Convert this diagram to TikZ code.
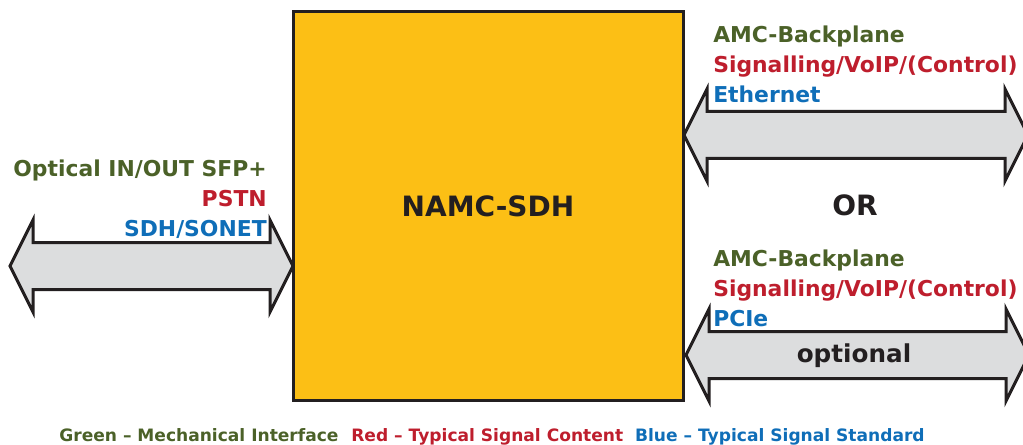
\documentclass[tikz,border=0pt]{standalone}
\usepackage{fontspec}
\setmainfont{DejaVu Sans}
\usetikzlibrary{positioning}
\definecolor{mechgreen}{HTML}{4B6128}
\definecolor{sigred}{HTML}{BE1E2D}
\definecolor{stdblue}{HTML}{0F6EB8}
\definecolor{boxyellow}{HTML}{FCBF15}
\definecolor{pipegray}{HTML}{DCDDDE}
\definecolor{inkdark}{HTML}{231F20}
\tikzset{
  lbl/.style={font=\fontsize{16.4}{19}\selectfont\bfseries, inner sep=0pt},
  big/.style={font=\fontsize{21}{25}\selectfont\bfseries, text=inkdark, inner sep=0pt},
  pipe/.style={draw=inkdark, fill=pipegray, line width=2.25pt, miter limit=10}
}
\begin{document}
\begin{tikzpicture}[x=0.75pt,y=-0.75pt]
  \useasboundingbox (0,0) rectangle (1023,445);
  \def\hl{23}
  % double arrows: tip x left / tip x right / centre y
  \foreach \xa/\xb/\yc in {10/293/266,684/1028/135,686/1029/355}
     {\draw[pipe] (\xa,\yc) -- (\xa+\hl,\yc-46) -- (\xa+\hl,\yc-23.5)
        -- (\xb-\hl,\yc-23.5) -- (\xb-\hl,\yc-46) -- (\xb,\yc)
        -- (\xb-\hl,\yc+46) -- (\xb-\hl,\yc+23.5) -- (\xa+\hl,\yc+23.5)
        -- (\xa+\hl,\yc+46) -- cycle;}
  \node[big, draw=inkdark, fill=boxyellow, line width=2.25pt,
        minimum width=292.5pt, minimum height=291pt] (namc) at (488,206) {NAMC-SDH};
  % left side
  \node[lbl, text=mechgreen, anchor=base east] (optin) at (267,177) {Optical IN/OUT SFP+};
  \node[lbl, text=sigred, anchor=base east] (pstn) at (267,207) {PSTN};
  \node[lbl, text=stdblue, anchor=base east] (sdh) at (267,237) {SDH/SONET};
  % right side, upper
  \node[lbl, text=mechgreen, anchor=base west] (amca) at (713,43) {AMC-Backplane};
  \node[lbl, text=sigred, anchor=base west] (siga) at (713,73) {Signalling/VoIP/(Control)};
  \node[lbl, text=stdblue, anchor=base west] (eth) at (713,103) {Ethernet};
  \node[big, anchor=base] (orlbl) at (855,215) {OR};
  % right side, lower
  \node[lbl, text=mechgreen, anchor=base west] (amcb) at (713,266) {AMC-Backplane};
  \node[lbl, text=sigred, anchor=base west] (sigb) at (713,296) {Signalling/VoIP/(Control)};
  \node[lbl, text=stdblue, anchor=base west] (pcie) at (713,326) {PCIe};
  \node[big, font=\fontsize{18.5}{22}\selectfont\bfseries, anchor=base] (opt) at (854,362) {optional};
  % legend
  \node[inner sep=0pt, anchor=base, font=\fontsize{12.8}{15}\selectfont\bfseries] (legend) at (492,441)
     {\textcolor{mechgreen}{Green -- Mechanical Interface}\hspace{0.75em}%
      \textcolor{sigred}{Red -- Typical Signal Content}\hspace{0.7em}%
      \textcolor{stdblue}{Blue -- Typical Signal Standard}};
\end{tikzpicture}
\end{document}
